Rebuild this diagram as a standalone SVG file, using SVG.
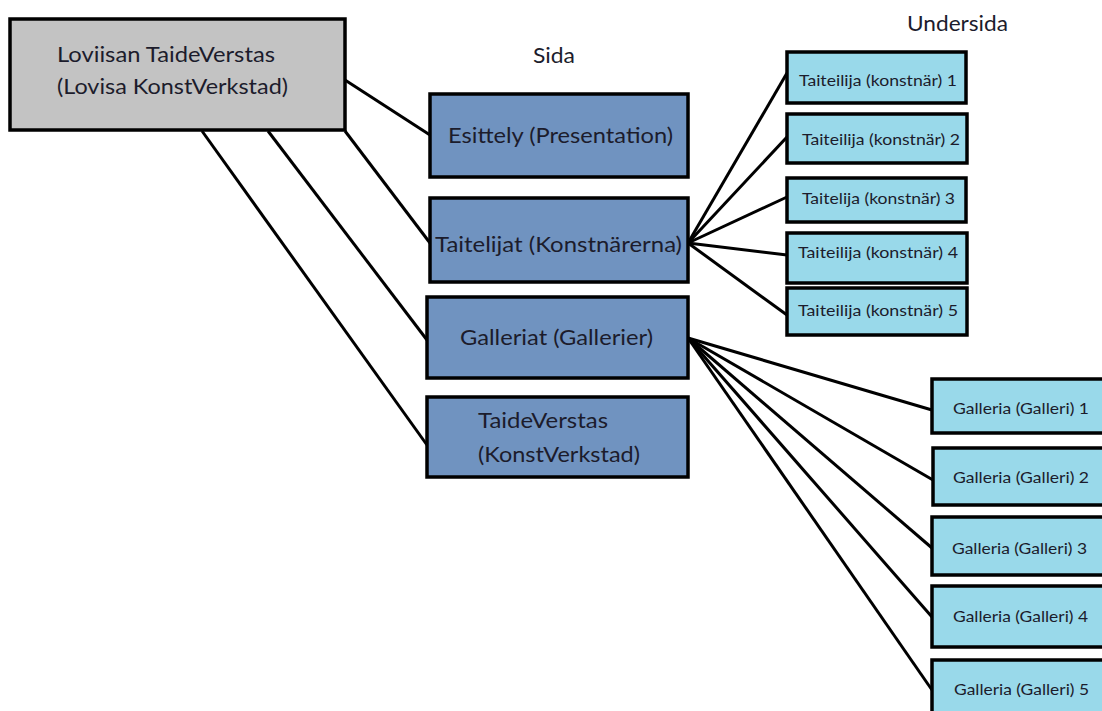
<svg xmlns="http://www.w3.org/2000/svg" width="1102" height="711" viewBox="0 0 1102 711">
<style>
.box{stroke:#000;stroke-width:3.5}
.root{fill:#c3c3c3}
.mid{fill:#7093c0}
.sub{fill:#99d9ea}
text{font-family:Lato,"Liberation Sans",sans-serif;fill:#1c1c2c}
.big{font-size:22px}
.small{font-size:15px}
.conn line{stroke:#000;stroke-width:3}
</style>
<rect width="1102" height="711" fill="#fff"/>
<g class="conn">
<line x1="345" y1="80" x2="430" y2="135"/>
<line x1="345" y1="131" x2="430" y2="243"/>
<line x1="268" y1="131" x2="427" y2="340"/>
<line x1="202" y1="131" x2="427" y2="445"/>
<line x1="688" y1="243" x2="787" y2="73"/>
<line x1="688" y1="243" x2="787" y2="137"/>
<line x1="688" y1="243" x2="787" y2="197"/>
<line x1="688" y1="243" x2="787" y2="255"/>
<line x1="688" y1="243" x2="787" y2="315"/>
<line x1="688" y1="338" x2="932" y2="410"/>
<line x1="688" y1="338" x2="933" y2="480"/>
<line x1="688" y1="338" x2="932" y2="548"/>
<line x1="688" y1="338" x2="932" y2="617"/>
<line x1="688" y1="338" x2="932" y2="690"/>
</g>
<text class="big" x="533" y="63" textLength="42" lengthAdjust="spacingAndGlyphs">Sida</text>
<text class="big" x="907" y="31" textLength="101" lengthAdjust="spacingAndGlyphs">Undersida</text>
<g id="root">
<rect class="box root" x="10" y="19" width="335" height="111"/>
<text class="big" x="57" y="62" textLength="218" lengthAdjust="spacingAndGlyphs">Loviisan TaideVerstas</text>
<text class="big" x="57" y="94" textLength="231" lengthAdjust="spacingAndGlyphs">(Lovisa KonstVerkstad)</text>
</g>
<g id="esittely">
<rect class="box mid" x="430" y="94" width="258" height="83"/>
<text class="big" x="448" y="143" textLength="225" lengthAdjust="spacingAndGlyphs">Esittely (Presentation)</text>
</g>
<g id="taitelijat">
<rect class="box mid" x="430" y="198" width="258" height="84"/>
<text class="big" x="435" y="252" textLength="247" lengthAdjust="spacingAndGlyphs">Taitelijat (Konstnärerna)</text>
</g>
<g id="galleriat">
<rect class="box mid" x="427" y="297" width="261" height="81"/>
<text class="big" x="460" y="345" textLength="193" lengthAdjust="spacingAndGlyphs">Galleriat (Gallerier)</text>
</g>
<g id="taideverstas">
<rect class="box mid" x="427" y="397" width="261" height="80"/>
<text class="big" x="478" y="428" textLength="130" lengthAdjust="spacingAndGlyphs">TaideVerstas</text>
<text class="big" x="478" y="462" textLength="162" lengthAdjust="spacingAndGlyphs">(KonstVerkstad)</text>
</g>
<g id="t1">
<rect class="box sub" x="787" y="52" width="179" height="51"/>
<text class="small" x="799" y="86" textLength="158" lengthAdjust="spacingAndGlyphs">Taiteilija (konstnär) 1</text>
</g>
<g id="t2">
<rect class="box sub" x="787" y="114" width="180" height="49"/>
<text class="small" x="802" y="145" textLength="158" lengthAdjust="spacingAndGlyphs">Taiteilija (konstnär) 2</text>
</g>
<g id="t3">
<rect class="box sub" x="787" y="178" width="179" height="44"/>
<text class="small" x="802" y="204" textLength="153" lengthAdjust="spacingAndGlyphs">Taitelija (konstnär) 3</text>
</g>
<g id="t4">
<rect class="box sub" x="787" y="233" width="180" height="50"/>
<text class="small" x="798" y="258" textLength="160" lengthAdjust="spacingAndGlyphs">Taiteilija (konstnär) 4</text>
</g>
<g id="t5">
<rect class="box sub" x="787" y="288" width="180" height="47"/>
<text class="small" x="798" y="316" textLength="160" lengthAdjust="spacingAndGlyphs">Taiteilija (konstnär) 5</text>
</g>
<g id="g1">
<rect class="box sub" x="932" y="379" width="180" height="54"/>
<text class="small" x="953" y="414" textLength="136" lengthAdjust="spacingAndGlyphs">Galleria (Galleri) 1</text>
</g>
<g id="g2">
<rect class="box sub" x="933" y="448" width="180" height="57"/>
<text class="small" x="953" y="483" textLength="136" lengthAdjust="spacingAndGlyphs">Galleria (Galleri) 2</text>
</g>
<g id="g3">
<rect class="box sub" x="932" y="517" width="180" height="58"/>
<text class="small" x="952" y="554" textLength="135" lengthAdjust="spacingAndGlyphs">Galleria (Galleri) 3</text>
</g>
<g id="g4">
<rect class="box sub" x="932" y="586" width="180" height="61"/>
<text class="small" x="953" y="622" textLength="135" lengthAdjust="spacingAndGlyphs">Galleria (Galleri) 4</text>
</g>
<g id="g5">
<rect class="box sub" x="932" y="660" width="180" height="60"/>
<text class="small" x="954" y="695" textLength="135" lengthAdjust="spacingAndGlyphs">Galleria (Galleri) 5</text>
</g>
</svg>
